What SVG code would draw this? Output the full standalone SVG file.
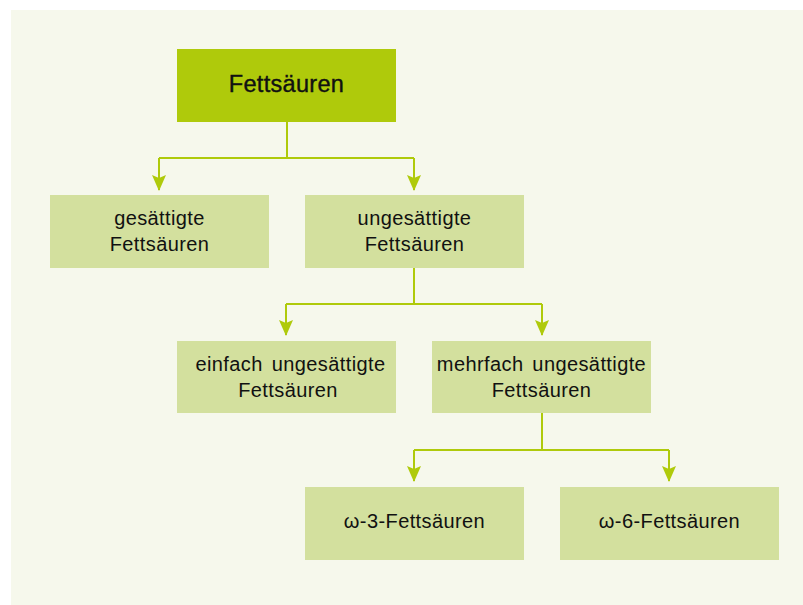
<svg xmlns="http://www.w3.org/2000/svg" width="803" height="605" viewBox="0 0 803 605">
<defs>
<style>
.top{fill:#AFCA0B}
.box{fill:#D3E09E}
.t{font-family:"Liberation Sans",Arial,sans-serif;font-size:20px;letter-spacing:0.4px;fill:#111;text-anchor:middle}
.tt{font-family:"Liberation Sans",Arial,sans-serif;font-size:23.5px;letter-spacing:0.3px;fill:#111;text-anchor:middle;stroke:#111;stroke-width:0.4}
.c{fill:none;stroke:#AFCA0B;stroke-width:2}
</style>
<marker id="ah" viewBox="0 0 16 14" refX="15" refY="7" markerWidth="16" markerHeight="14" markerUnits="userSpaceOnUse" orient="auto">
<path d="M0,0 L16,7 L0,14 L3,7 Z" fill="#AFCA0B"/>
</marker>
</defs>
<rect width="803" height="605" fill="#ffffff"/>
<rect x="11" y="10" width="792" height="595" fill="#F6F8EC"/>
<g id="connectors">
<path class="c" d="M287,122 V158 M159,158 H414" />
<path class="c" d="M159,158 V190" marker-end="url(#ah)"/>
<path class="c" d="M414,158 V190" marker-end="url(#ah)"/>
<path class="c" d="M414,268 V304 M286,304 H542"/>
<path class="c" d="M286,304 V335" marker-end="url(#ah)"/>
<path class="c" d="M542,304 V335" marker-end="url(#ah)"/>
<path class="c" d="M542,413 V450 M414,450 H669"/>
<path class="c" d="M414,450 V481" marker-end="url(#ah)"/>
<path class="c" d="M669,450 V481" marker-end="url(#ah)"/>
</g>
<g id="fettsaeuren">
<rect class="top" x="177" y="49" width="219" height="73"/>
<text class="tt" x="286.5" y="92">Fettsäuren</text>
</g>
<g id="gesaettigte">
<rect class="box" x="50" y="195" width="219" height="73"/>
<text class="t" x="159.5" y="225">gesättigte</text>
<text class="t" x="159.5" y="251">Fettsäuren</text>
</g>
<g id="ungesaettigte">
<rect class="box" x="305" y="195" width="219" height="73"/>
<text class="t" x="414.5" y="225">ungesättigte</text>
<text class="t" x="414.5" y="251">Fettsäuren</text>
</g>
<g id="einfach">
<rect class="box" x="177" y="341" width="219" height="72"/>
<text class="t" x="290.5" y="371" word-spacing="3">einfach ungesättigte</text>
<text class="t" x="288" y="397">Fettsäuren</text>
</g>
<g id="mehrfach">
<rect class="box" x="432" y="341" width="219" height="72"/>
<text class="t" x="541.5" y="371" word-spacing="3">mehrfach ungesättigte</text>
<text class="t" x="541.5" y="397">Fettsäuren</text>
</g>
<g id="omega3">
<rect class="box" x="305" y="487" width="219" height="73"/>
<text class="t" x="414.5" y="528" letter-spacing="1">ω-3-Fettsäuren</text>
</g>
<g id="omega6">
<rect class="box" x="560" y="487" width="219" height="73"/>
<text class="t" x="669.5" y="528" letter-spacing="1">ω-6-Fettsäuren</text>
</g>
</svg>
